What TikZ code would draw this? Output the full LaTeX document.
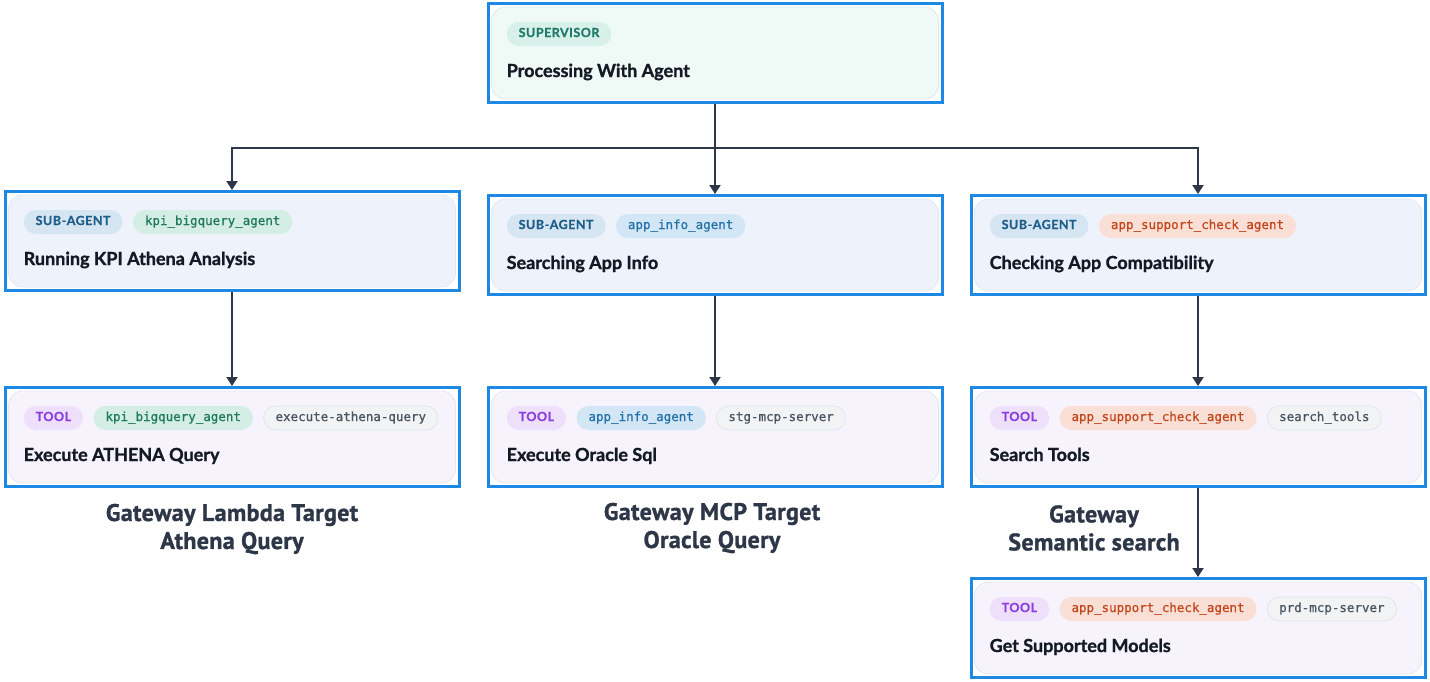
\documentclass[tikz,border=0pt]{standalone}
\usepackage{fontspec}
\setmainfont{Lato}
\newfontfamily\monof{DejaVu Sans Mono}[FakeBold=0.6]
\newfontfamily\gatef{PT Sans}
\usetikzlibrary{arrows.meta,positioning}
\definecolor{cardblue}{HTML}{1E88E5}
\definecolor{cardedge}{HTML}{E2E8F0}
\definecolor{supfill}{HTML}{EFFAF7}
\definecolor{subfill}{HTML}{EEF3FB}
\definecolor{toolfill}{HTML}{F6F3FC}
\definecolor{supvfill}{HTML}{D8F0EA}
\definecolor{supvtext}{HTML}{1F7A68}
\definecolor{sagfill}{HTML}{D5E5F2}
\definecolor{sagtext}{HTML}{1F5E8A}
\definecolor{kpifill}{HTML}{D4EDE5}
\definecolor{kpitext}{HTML}{1E7A5A}
\definecolor{infofill}{HTML}{D3E6F5}
\definecolor{infotext}{HTML}{2271A8}
\definecolor{supfill2}{HTML}{FADFD6}
\definecolor{suptext2}{HTML}{C2461C}
\definecolor{toolpfill}{HTML}{EEE0FB}
\definecolor{toolptext}{HTML}{8A3FE0}
\definecolor{grayfill}{HTML}{F1F3F5}
\definecolor{grayedge}{HTML}{E2E6EA}
\definecolor{graytext}{HTML}{4A5560}
\definecolor{titletext}{HTML}{141A24}
\definecolor{arrowcol}{HTML}{2D3748}
\newcommand\us{\char95\relax}
\newcommand\lablfont{\fontsize{12.5}{14}\selectfont\bfseries\addfontfeature{LetterSpace=4,FakeBold=0.8}}
\newcommand\mkcard[5]{%
  \node[card] (#1) at (#2,#3) {};
  \draw[cardin, fill=#4] ([shift={(5,5)}]#1.north west) rectangle ([shift={(-5,-5)}]#1.south east);
  \node[titlestyle] (#1-t) at ([shift={(20,75)}]#1.north west) {#5};
}
\begin{document}
\begin{tikzpicture}[x=1pt,y=-1pt,
  card/.style={draw=cardblue, line width=3pt, minimum width=454pt, minimum height=99pt, inner sep=0pt},
  cardin/.style={draw=cardedge, line width=0.8pt, rounded corners=14pt},
  titlestyle/.style={anchor=base west, inner sep=0pt, text=titletext, font=\fontsize{18}{20}\selectfont\bfseries\addfontfeature{FakeBold=1.2}},
  pill/.style={rounded corners=12pt, minimum height=24pt, inner xsep=12pt, inner ysep=0pt, text height=9pt, text depth=3pt, anchor=west},
  lab/.style={pill, font=\lablfont},
  mono/.style={pill, font=\monof\fontsize{12.5}{14}\selectfont},
  supv/.style={lab, fill=supvfill, text=supvtext},
  sag/.style={lab, fill=sagfill, text=sagtext},
  toolp/.style={lab, fill=toolpfill, text=toolptext},
  kpi/.style={mono, fill=kpifill, text=kpitext},
  info/.style={mono, fill=infofill, text=infotext},
  asup/.style={mono, fill=supfill2, text=suptext2},
  grayp/.style={mono, fill=grayfill, draw=grayedge, line width=0.8pt, text=graytext},
  gate/.style={align=center, text=arrowcol, font=\gatef\fontsize{24}{28}\selectfont\bfseries\addfontfeature{LetterSpace=1.5,FakeBold=1.2}},
  link/.style={draw=arrowcol, line width=2pt},
  arr/.style={link, -{Triangle[width=11pt,length=9pt]}}
]
\useasboundingbox (0,0) rectangle (1430,681);
\fill[white] (0,0) rectangle (1430,681);

% supervisor
\mkcard{sup}{715}{53}{supfill}{Processing With Agent}
\node[supv] (sup-p1) at ([shift={(20,32)}]sup.north west) {SUPERVISOR};

% sub-agents
\mkcard{sa1}{232}{241}{subfill}{Running KPI Athena Analysis}
\node[sag] (sa1-p1) at ([shift={(20,32)}]sa1.north west) {SUB-AGENT};
\node[kpi, right=10pt of sa1-p1] (sa1-p2) {kpi\us bigquery\us agent};

\mkcard{sa2}{715}{245}{subfill}{Searching App Info}
\node[sag] (sa2-p1) at ([shift={(20,32)}]sa2.north west) {SUB-AGENT};
\node[info, right=10pt of sa2-p1] (sa2-p2) {app\us info\us agent};

\mkcard{sa3}{1198}{245}{subfill}{Checking App Compatibility}
\node[sag] (sa3-p1) at ([shift={(20,32)}]sa3.north west) {SUB-AGENT};
\node[asup, right=10pt of sa3-p1] (sa3-p2) {app\us support\us check\us agent};

% tools
\mkcard{t1}{232}{437}{toolfill}{Execute ATHENA Query}
\node[toolp] (t1-p1) at ([shift={(20,32)}]t1.north west) {TOOL};
\node[kpi, right=10pt of t1-p1] (t1-p2) {kpi\us bigquery\us agent};
\node[grayp, right=10pt of t1-p2] (t1-p3) {execute-athena-query};

\mkcard{t2}{715}{437}{toolfill}{Execute Oracle Sql}
\node[toolp] (t2-p1) at ([shift={(20,32)}]t2.north west) {TOOL};
\node[info, right=10pt of t2-p1] (t2-p2) {app\us info\us agent};
\node[grayp, right=10pt of t2-p2] (t2-p3) {stg-mcp-server};

\mkcard{t3}{1198}{437}{toolfill}{Search Tools}
\node[toolp] (t3-p1) at ([shift={(20,32)}]t3.north west) {TOOL};
\node[asup, right=10pt of t3-p1] (t3-p2) {app\us support\us check\us agent};
\node[grayp, right=10pt of t3-p2] (t3-p3) {search\us tools};

\mkcard{t4}{1198}{628}{toolfill}{Get Supported Models}
\node[toolp] (t4-p1) at ([shift={(20,32)}]t4.north west) {TOOL};
\node[asup, right=10pt of t4-p1] (t4-p2) {app\us support\us check\us agent};
\node[grayp, right=10pt of t4-p2] (t4-p3) {prd-mcp-server};

% gateway labels
\node[gate] (g1) at (232,529) {Gateway Lambda Target\\Athena Query};
\node[gate] (g2) at (712,528) {Gateway MCP Target\\Oracle Query};
\node[gate] (g3) at (1094,528) {Gateway\\Semantic search};

% connectors
\coordinate (bus) at (715,148);
\draw[link] (sup.south) -- (bus);
\draw[arr] (bus) -| (sa1.north);
\draw[arr] (bus) -- (sa2.north);
\draw[arr] (bus) -| (sa3.north);
\draw[arr] (sa1.south) -- (t1.north);
\draw[arr] (sa2.south) -- (t2.north);
\draw[arr] (sa3.south) -- (t3.north);
\draw[arr] (t3.south) -- (t4.north);
\end{tikzpicture}
\end{document}
